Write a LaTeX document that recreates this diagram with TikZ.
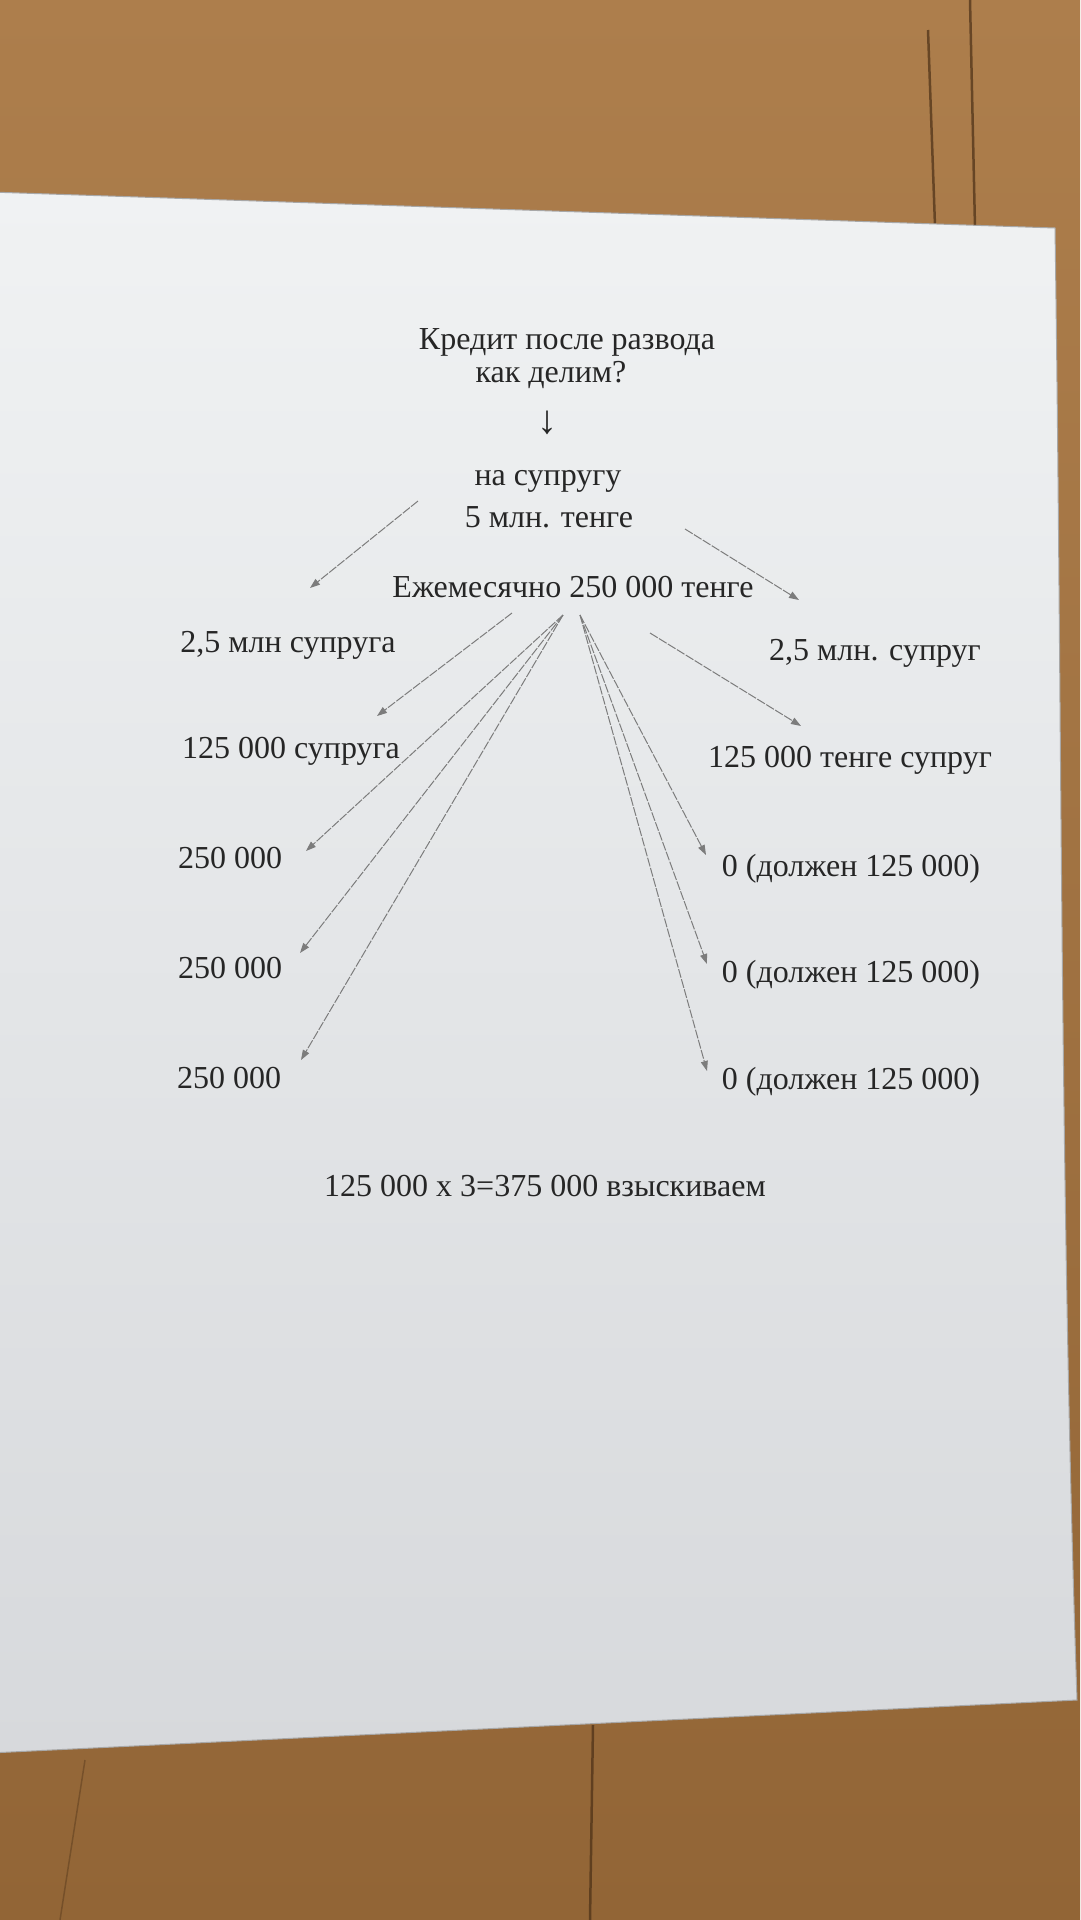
\documentclass[tikz,border=0pt]{standalone}
\usepackage{fontspec}
\setmainfont{Liberation Serif}
\usetikzlibrary{arrows.meta}
\definecolor{woodTop}{HTML}{AD7E4C}
\definecolor{woodBot}{HTML}{926536}
\definecolor{woodDark}{HTML}{4A2F16}
\definecolor{paperTop}{HTML}{F0F2F3}
\definecolor{paperBot}{HTML}{D7D9DC}
\definecolor{paperEdge}{HTML}{A8A8A8}
\definecolor{ink}{HTML}{262626}
\definecolor{lead}{HTML}{7C7C7C}
\tikzset{
  txt/.style={anchor=base, inner sep=0pt, text=ink, font=\fontsize{32}{38}\selectfont},
  pointer/.style={draw=lead, line width=1pt, dash pattern=on 9pt off 1.5pt,
    -{Triangle[length=10pt,width=7pt,fill=lead]}},
  crack/.style={draw=woodDark, line width=2.5pt, opacity=0.7}
}

\begin{document}
\begin{tikzpicture}[x=1pt,y=-1pt]
  \useasboundingbox (0,0) rectangle (1080,1920);
  \shade[top color=woodTop, bottom color=woodBot] (0,0) rectangle (1080,1920);
  \draw[crack] (928,30) -- (935,226);
  \draw[crack] (970,0) -- (975,228);
  \draw[crack] (593,1725) -- (590,1920);
  \draw[crack, line width=1.5pt, opacity=0.4] (85,1760) -- (60,1920);
  \shade[top color=paperTop, bottom color=paperBot, draw=paperEdge, line width=1pt]
    (-10,192) -- (1055,228) .. controls (1062,700) and (1060,1200) .. (1077,1700)
    -- (-10,1753) -- cycle;

  \node[txt] (title) at (567,349) {Кредит после развода};
  \node[txt] (question) at (551,382) {как делим?};
  \node[txt, font=\fontsize{40}{44}\selectfont] (down) at (547,433) {↓};
  \node[txt] (wife) at (548,485) {на супругу};
  \node[txt] (sum) at (549,527) {5 млн. тенге};
  \node[txt] (monthly) at (573,597) {Ежемесячно 250 000 тенге};
  \node[txt] (halfW) at (288,652) {2,5 млн супруга};
  \node[txt] (halfH) at (875,660) {2,5 млн. супруг};
  \node[txt] (partW) at (291,758) {125 000 супруга};
  \node[txt] (partH) at (850,767) {125 000 тенге супруг};
  \node[txt] (paidA) at (230,868) {250 000};
  \node[txt] (paidB) at (230,978) {250 000};
  \node[txt] (paidC) at (229,1088) {250 000};
  \node[txt] (owesA) at (851,876) {0 (должен 125 000)};
  \node[txt] (owesB) at (851,982) {0 (должен 125 000)};
  \node[txt] (owesC) at (851,1089) {0 (должен 125 000)};
  \node[txt] (total) at (545,1196) {125 000 x 3=375 000 взыскиваем};

  \coordinate (sumL) at (418,501);
  \coordinate (sumR) at (685,529);
  \coordinate (monL) at (512,613);
  \coordinate (monR) at (650,633);
  \coordinate (fanL) at (563,615);
  \coordinate (fanR) at (580,615);
  \coordinate (tipHalfW) at (310,588);
  \coordinate (tipHalfH) at (799,600);
  \coordinate (tipPartW) at (377,716);
  \coordinate (tipPartH) at (801,726);
  \coordinate (tipPaidA) at (306,851);
  \coordinate (tipPaidB) at (300,953);
  \coordinate (tipPaidC) at (301,1060);
  \coordinate (tipOwesA) at (706,855);
  \coordinate (tipOwesB) at (707,964);
  \coordinate (tipOwesC) at (707,1071);

  \draw[pointer] (sumL) -- (tipHalfW);
  \draw[pointer] (sumR) -- (tipHalfH);
  \draw[pointer] (monL) -- (tipPartW);
  \draw[pointer] (monR) -- (tipPartH);
  \draw[pointer] (fanL) -- (tipPaidA);
  \draw[pointer] (fanL) -- (tipPaidB);
  \draw[pointer] (fanL) -- (tipPaidC);
  \draw[pointer] (fanR) -- (tipOwesA);
  \draw[pointer] (fanR) -- (tipOwesB);
  \draw[pointer] (fanR) -- (tipOwesC);
\end{tikzpicture}
\end{document}
